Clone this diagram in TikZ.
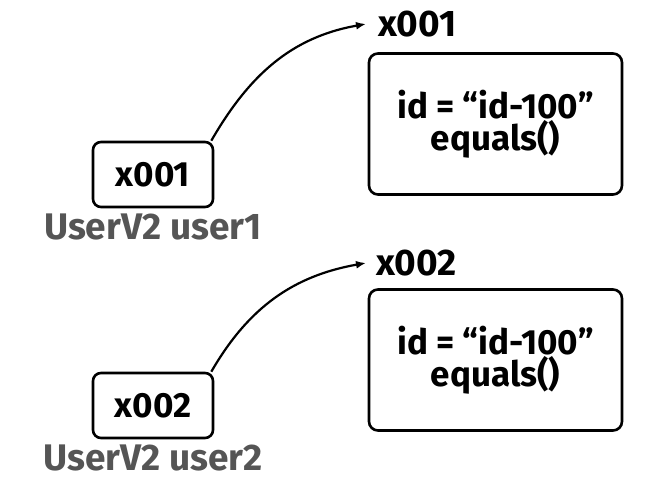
\documentclass[tikz,border=0pt]{standalone}
\usepackage{fontspec}
\setmainfont{Fira Sans}
\usetikzlibrary{positioning,arrows.meta}
\definecolor{tinta}{HTML}{000000}
\definecolor{rotulo}{HTML}{555555}

\begin{document}
\begin{tikzpicture}[
  x=1pt, y=1pt,
  font=\bfseries\fontsize{35}{36}\selectfont,
  ref/.style={draw=tinta, line width=2.6pt, rounded corners=8pt, minimum width=120pt, minimum height=65pt, inner sep=0pt},
  objeto/.style={draw=tinta, line width=2.6pt, rounded corners=9pt, align=center, minimum width=253pt, minimum height=141pt},
  nome/.style={text=rotulo, font=\bfseries\fontsize{37}{38}\selectfont, inner sep=0pt},
  seta/.style={-{Latex[length=10pt,width=8pt]}, line width=2.2pt, draw=tinta}]
\useasboundingbox (0,0) rectangle (663,494);
% ---- user1
\node[ref] (r1) at (153,319.5) {x001};
\node[nome, below=5pt of r1] (n1) {UserV2 user1};
\node[objeto] (o1) at (495.5,370) {id = “id-100”\\[-4pt]equals()};
\node[anchor=west, inner sep=0pt, font=\bfseries\fontsize{37}{38}\selectfont] (e1) at (378,470) {x001};
\coordinate[left=12pt of e1] (p1);
\draw[seta] (r1.north east) ++(-3,0) to[out=60, in=190] (p1);
% ---- user2
\node[ref] (r2) at (153,88.5) {x002};
\node[nome, below=5pt of r2] (n2) {UserV2 user2};
\node[objeto] (o2) at (495.5,134) {id = “id-100”\\[-4pt]equals()};
\node[anchor=west, inner sep=0pt, font=\bfseries\fontsize{37}{38}\selectfont] (e2) at (376,231) {x002};
\coordinate[left=10pt of e2] (p2);
\draw[seta] (r2.north east) ++(-3,0) to[out=60, in=190] (p2);
\end{tikzpicture}
\end{document}
